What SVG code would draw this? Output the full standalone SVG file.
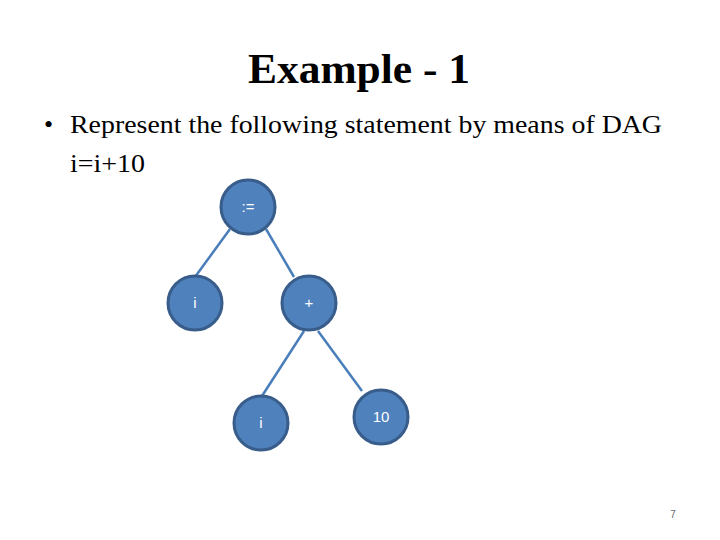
<svg xmlns="http://www.w3.org/2000/svg" width="720" height="540" viewBox="0 0 720 540">
<style>
.t{font-family:"Liberation Serif","Times New Roman",serif;fill:#000}
.n circle{fill:#4F81BD;stroke:#385D8A;stroke-width:3}
.n text{font-family:"Liberation Sans",Arial,sans-serif;font-size:15px;fill:#fff;text-anchor:middle}
.e line{stroke:#4A7EBB;stroke-width:2.5}
</style>
<rect width="720" height="540" fill="#fff"/>
<text class="t" x="248" y="83" font-size="42" font-weight="bold" textLength="222" lengthAdjust="spacingAndGlyphs">Example - 1</text>
<text class="t" x="44" y="133" font-size="26">•</text>
<text class="t" x="70" y="133" font-size="26" textLength="592" lengthAdjust="spacingAndGlyphs">Represent the following statement by means of DAG</text>
<text class="t" x="70" y="172" font-size="26" textLength="75" lengthAdjust="spacingAndGlyphs">i=i+10</text>
<g class="e">
<line x1="230" y1="229" x2="195" y2="277"/>
<line x1="266" y1="229" x2="294" y2="277"/>
<line x1="304" y1="331" x2="262" y2="396"/>
<line x1="318" y1="331" x2="362" y2="391"/>
</g>
<g id="assign" class="n"><circle cx="248" cy="207" r="27"/><text x="248" y="212">:=</text></g>
<g id="i1" class="n"><circle cx="195" cy="303" r="27"/><text x="195" y="308">i</text></g>
<g id="plus" class="n"><circle cx="309" cy="303" r="27"/><text x="309" y="308">+</text></g>
<g id="i2" class="n"><circle cx="261" cy="423" r="27"/><text x="261" y="428">i</text></g>
<g id="ten" class="n"><circle cx="381" cy="417" r="27"/><text x="381" y="422">10</text></g>
<text x="673" y="518" font-family="Liberation Sans,Arial,sans-serif" font-size="10" fill="#666" text-anchor="middle">7</text>
</svg>
